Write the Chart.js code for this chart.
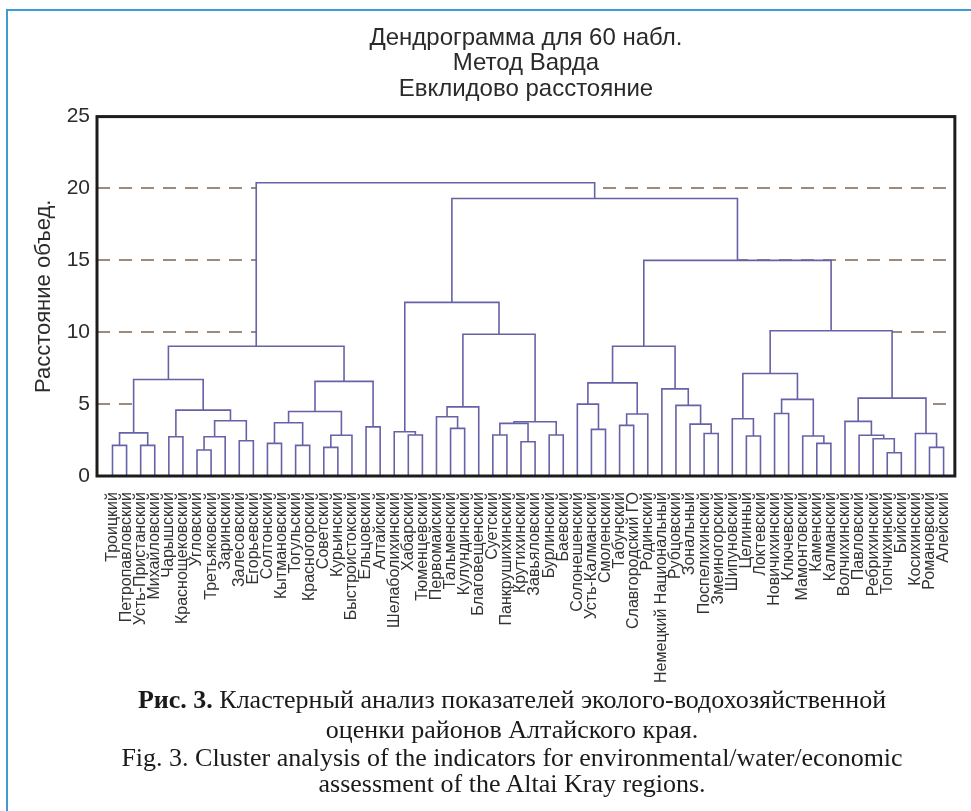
<!DOCTYPE html>
<html lang="ru">
<head>
<meta charset="utf-8">
<title>Дендрограмма для 60 набл.</title>
<script src="https://cdn.jsdelivr.net/npm/chart.js@4.4.1/dist/chart.umd.min.js"></script>
<style>
  html, body { margin: 0; padding: 0; background: #fff; }
  body { width: 971px; height: 811px; position: relative; overflow: hidden; }
  .frame {
    position: absolute; left: 6px; top: 9px; right: -20px; bottom: -20px;
    border-left: 2px solid #3d9bd6; border-top: 2px solid #3d9bd6;
  }
  #chart { position: absolute; left: 0; top: 0; }
  .caption {
    position: absolute; left: 52px; width: 920px; top: 685px;
    text-align: center; color: #1a1a1a; font-family: "Liberation Serif", "DejaVu Serif", serif;
  }
  .caption p { margin: 0; }
  .caption .ru { font-size: 26px; line-height: 30px; }
  .caption .en { font-size: 26px; line-height: 26px; }
</style>
</head>
<body>
<div class="frame"></div>
<canvas id="chart" width="971" height="690"></canvas>
<div class="caption">
  <p class="ru"><b>Рис. 3.</b> Кластерный анализ показателей эколого-водохозяйственной<br>оценки районов Алтайского края.</p>
  <p class="en">Fig. 3. Cluster analysis of the indicators for environmental/water/economic<br>assessment of the Altai Kray regions.</p>
</div>
<script>
// Листья дендрограммы в порядке слева направо
const leafNames = [
  'Троицкий', 'Петропавловский', 'Усть-Пристанский', 'Михайловский', 'Чарышский',
  'Краснощековский', 'Угловский', 'Третьяковский', 'Заринский', 'Залесовский',
  'Егорьевский', 'Солтонский', 'Кытмановский', 'Тогульский', 'Красногорский',
  'Советский', 'Курьинский', 'Быстроистокский', 'Ельцовский', 'Алтайский',
  'Шелаболихинский', 'Хабарский', 'Тюменцевский', 'Первомайский', 'Тальменский',
  'Кулундинский', 'Благовещенский', 'Суетский', 'Панкрушихинский', 'Крутихинский',
  'Завьяловский', 'Бурлинский', 'Баевский', 'Солонешенский', 'Усть-Калманский',
  'Смоленский', 'Табунский', 'Славгородский ГО', 'Родинский', 'Немецкий Национальный',
  'Рубцовский', 'Зональный', 'Поспелихинский', 'Змеиногорский', 'Шипуновский',
  'Целинный', 'Локтевский', 'Новичихинский', 'Ключевский', 'Мамонтовский',
  'Каменский', 'Калманский', 'Волчихинский', 'Павловский', 'Ребрихинский',
  'Топчихинский', 'Бийский', 'Косихинский', 'Романовский', 'Алейский'
];

// Объединения (метод Варда): [левый, правый, расстояние]
// 0..59 - листья, 60+k - кластер из k-го объединения
const merges = [
  [0, 1, 2.13], [2, 3, 2.13], [60, 61, 3.0], [4, 5, 2.73], [6, 7, 1.81],
  [64, 8, 2.73], [9, 10, 2.45], [65, 66, 3.84], [63, 67, 4.58], [62, 68, 6.71],
  [11, 12, 2.27], [13, 14, 2.13], [70, 71, 3.7], [15, 16, 1.99], [73, 17, 2.83],
  [72, 74, 4.49], [18, 19, 3.42], [75, 76, 6.58], [69, 77, 9.03],
  [21, 22, 2.85], [20, 79, 3.08], [24, 25, 3.31], [23, 81, 4.12], [82, 26, 4.81],
  [27, 28, 2.85], [29, 30, 2.38], [84, 85, 3.66], [31, 32, 2.85], [86, 87, 3.77],
  [83, 88, 9.86], [80, 89, 12.08],
  [34, 35, 3.24], [33, 91, 5.0], [36, 37, 3.52], [93, 38, 4.31], [92, 94, 6.48],
  [42, 43, 2.96], [41, 96, 3.61], [40, 97, 4.91], [39, 98, 6.06], [95, 99, 9.03],
  [45, 46, 2.78], [44, 101, 3.98], [47, 48, 4.35], [50, 51, 2.27], [49, 104, 2.78],
  [103, 105, 5.33], [102, 106, 7.13], [55, 56, 1.62], [54, 108, 2.59], [53, 109, 2.83],
  [52, 110, 3.8], [58, 59, 1.99], [57, 112, 2.96], [111, 113, 5.42], [107, 114, 10.1],
  [100, 115, 15.0], [90, 116, 19.3], [78, 117, 20.4]
];

const yTicks = [0, 5, 10, 15, 20, 25];
const titleLines = ['Дендрограмма для 60 набл.', 'Метод Варда', 'Евклидово расстояние'];
const yTitle = 'Расстояние объед.';

const LINK = '#6662a8';
const GRID = '#9c8b7c';

// Координаты узлов: листья в 1..60, кластер - посередине между потомками
const nodeX = leafNames.map((_, i) => i + 1);
const nodeH = leafNames.map(() => 0);
const links = merges.map(([a, b, h]) => {
    const pts = [
        { x: nodeX[a], y: nodeH[a] },
        { x: nodeX[a], y: h },
        { x: nodeX[b], y: h },
        { x: nodeX[b], y: nodeH[b] }
    ];
    nodeX.push((nodeX[a] + nodeX[b]) / 2);
    nodeH.push(h);
    return { h, pts };
});
// нижние связи рисуются поверх (первый набор рисуется последним)
links.sort((p, q) => p.h - q.h);

const datasets = links.map(l => ({
    data: l.pts,
    borderColor: LINK,
    borderWidth: 1.6,
    backgroundColor: '#fff',
    fill: 'origin',
    pointRadius: 0,
    tension: 0
}));

// рамка графика поверх всего
const framePlugin = {
    id: 'frame',
    afterDatasetsDraw(chart) {
        const { ctx, chartArea: a } = chart;
        ctx.save();
        ctx.strokeStyle = '#1c1c1c';
        ctx.lineWidth = 3;
        ctx.strokeRect(a.left, a.top, a.right - a.left, a.bottom - a.top);
        ctx.restore();
    }
};

new Chart(document.getElementById('chart'), {
    type: 'line',
    data: { datasets },
    plugins: [framePlugin],
    options: {
        responsive: false,
        animation: false,
        devicePixelRatio: 1,
        events: [],
        layout: { padding: { top: 10, right: 14, bottom: 0, left: 0 } },
        plugins: {
            legend: { display: false },
            tooltip: { enabled: false },
            title: {
                display: true,
                fullSize: false,
                text: titleLines,
                color: '#2a2a2a',
                font: { family: '"Liberation Sans", Arial, sans-serif', size: 24, weight: 'normal', lineHeight: 1.05 },
                padding: { top: 16, bottom: 15 }
            }
        },
        scales: {
            x: {
                type: 'linear',
                min: -0.1,
                max: 60.8,
                afterBuildTicks: (scale) => { scale.ticks = leafNames.map((_, i) => ({ value: i + 1 })); },
                afterFit: (scale) => { scale.height = 214; },
                grid: { display: false },
                border: { display: false },
                ticks: {
                    autoSkip: false,
                    minRotation: 90,
                    maxRotation: 90,
                    padding: 8,
                    color: '#333',
                    font: { family: '"Liberation Sans", Arial, sans-serif', size: 16 },
                    callback: (value, index) => leafNames[index]
                }
            },
            y: {
                min: 0,
                max: 25,
                afterBuildTicks: (scale) => { scale.ticks = yTicks.map(v => ({ value: v })); },
                afterFit: (scale) => { scale.width = 97; },
                grid: {
                    drawTicks: false,
                    lineWidth: 2,
                    color: (c) => (c.tick && c.tick.value > 0 && c.tick.value < 25) ? GRID : 'rgba(0,0,0,0)'
                },
                border: { display: false, dash: [13, 9] },
                ticks: {
                    padding: 7,
                    color: '#2b2b2b',
                    font: { family: '"Liberation Sans", Arial, sans-serif', size: 21 }
                },
                title: {
                    display: true,
                    text: yTitle,
                    color: '#2b2b2b',
                    font: { family: '"Liberation Sans", Arial, sans-serif', size: 22, lineHeight: 1.2 },
                    padding: { top: 31, bottom: 0 }
                }
            }
        }
    }
});
</script>
</body>
</html>
